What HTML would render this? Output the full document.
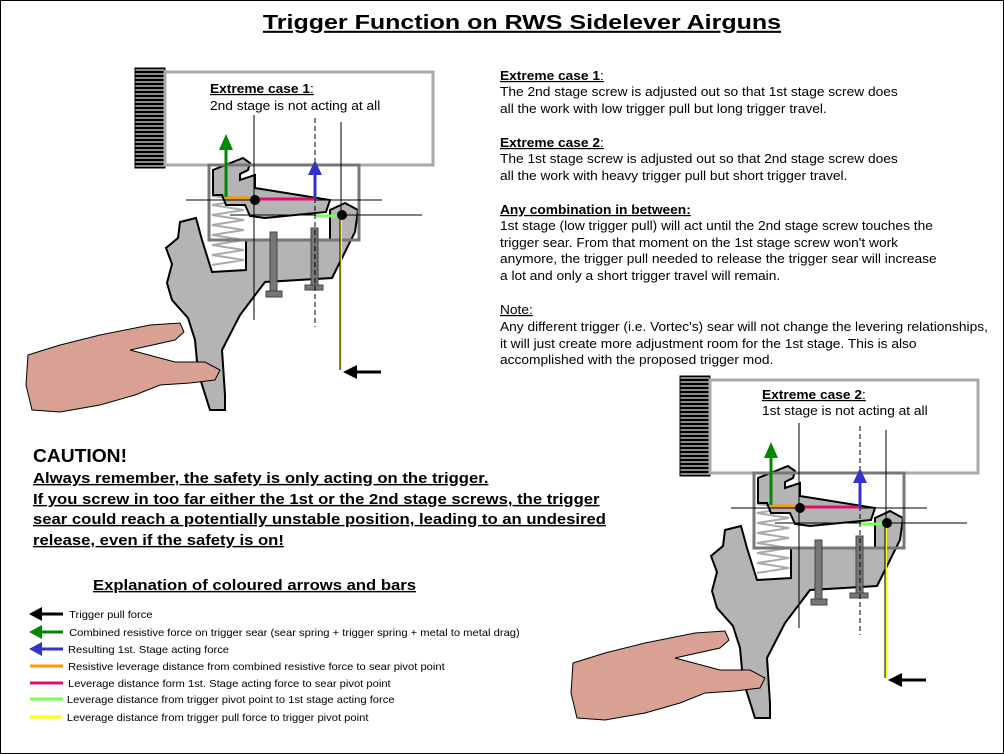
<!DOCTYPE html>
<html><head><meta charset="utf-8"><style>
body{margin:0;background:#fff;}
svg{display:block;font-family:"Liberation Sans",Arial,sans-serif;}
</style></head><body>
<svg width="1004" height="754" viewBox="0 0 1004 754" xmlns="http://www.w3.org/2000/svg">
<defs>
<pattern id="str" width="4" height="4" patternUnits="userSpaceOnUse"><rect width="4" height="4" fill="#000"/><rect y="1" width="4" height="2" fill="#888"/></pattern>
<g id="mech">
  <rect x="135" y="68" width="30" height="100" fill="url(#str)" stroke="#000"/>
  <rect x="165" y="72" width="268" height="93" fill="#fff" stroke="#aaa" stroke-width="3"/>
  <path d="M180,222 L196,218 L202,240 L212,272 L246,270 L246,240 L330,240 L330,210 L345,203 L358,210 L355,232 L340,262 L332,278 L265,282 L240,315 L222,350 L225,395 L225,410 L210,410 L198,372 L195,340 L188,318 L172,300 L167,283 L172,264 L166,248 L178,238 Z" fill="#b4b4b4" stroke="#000" stroke-width="2"/>
  <polyline points="212,196 244,200 212,205 244,210 212,215 244,220 212,225 244,230 212,235 244,240 212,245 244,250 212,255 244,260 212,265" fill="none" stroke="#aaa" stroke-width="2"/>
  <path d="M213,170 L243,158 L250,163 L248,170 L240,174 L240,180 L255,175 L255,188 L330,200 L326,212 L265,218 L250,216 L245,205 L226,205 L222,195 L213,195 Z" fill="#b4b4b4" stroke="#000" stroke-width="2"/>
  <rect x="209" y="165" width="150" height="75" fill="none" stroke="#777" stroke-width="3"/>
  <rect x="270" y="232" width="7" height="60" fill="#777" stroke="#444"/>
  <rect x="266" y="291" width="16" height="6" fill="#777" stroke="#444"/>
  <rect x="311" y="228" width="7" height="58" fill="#777" stroke="#444"/>
  <rect x="305" y="285" width="18" height="5" fill="#777" stroke="#444"/>
  <line x1="254" y1="115" x2="254" y2="320" stroke="#000"/>
  <line x1="315" y1="118" x2="315" y2="327" stroke="#000" stroke-dasharray="5,3"/>
  <line x1="341" y1="122" x2="341" y2="215" stroke="#000"/>
  <line x1="186" y1="200" x2="382" y2="200" stroke="#000"/>
  <line x1="230" y1="215" x2="422" y2="215" stroke="#000"/>
  <line x1="226" y1="198" x2="255" y2="198" stroke="#f90" stroke-width="3"/>
  <line x1="255" y1="199" x2="315" y2="199" stroke="#e0106a" stroke-width="3"/>
  <line x1="316" y1="216" x2="341" y2="216" stroke="#7f5" stroke-width="3"/>
  <line x1="341" y1="216" x2="341" y2="370" stroke="#ff0" stroke-width="2"/>
  <line x1="340" y1="216" x2="340" y2="370" stroke="#000" stroke-width="1"/>
  <circle cx="255" cy="200" r="5" fill="#000"/>
  <circle cx="342" cy="215" r="5" fill="#000"/>
  <line x1="226" y1="197" x2="226" y2="148" stroke="#080" stroke-width="3"/>
  <polygon points="219,150 233,150 226,134" fill="#080"/>
  <line x1="315" y1="199" x2="315" y2="172" stroke="#33c" stroke-width="3"/>
  <polygon points="308,175 322,175 315,160" fill="#33c"/>
  <line x1="355" y1="372" x2="381" y2="372" stroke="#000" stroke-width="3"/>
  <polygon points="343,372 357,365 357,379" fill="#000"/>
  <path d="M28,355 L60,345 L100,335 L150,325 L180,323 L184,332 L175,340 L130,350 L175,362 L205,362 L220,370 L215,380 L190,383 L160,385 L135,395 L100,405 L60,412 L32,410 L26,385 Z" fill="#d9a193" stroke="#000" stroke-width="1"/>
</g>
</defs>
<rect x="0.5" y="0.5" width="1003" height="753" fill="#fff" stroke="#000"/>
<text x="522" y="29" text-anchor="middle" font-size="20.5" font-weight="bold" text-decoration="underline" transform="translate(522,0) scale(1.22,1) translate(-522,0)">Trigger Function on RWS Sidelever Airguns</text>

<use href="#mech"/>
<use href="#mech" transform="translate(545,308)"/>

<g font-size="12.5">
<g transform="translate(210,0) scale(1.1,1) translate(-210,0)">
<text x="210" y="93" font-weight="bold" text-decoration="underline">Extreme case 1<tspan font-weight="normal" text-decoration="none">:</tspan></text>
<text x="210" y="110">2nd stage is not acting at all</text>
</g>
<g transform="translate(762,0) scale(1.1,1) translate(-762,0)">
<text x="762" y="399" font-weight="bold" text-decoration="underline">Extreme case 2<tspan font-weight="normal" text-decoration="none">:</tspan></text>
<text x="762" y="415">1st  stage is not acting at all</text>
</g>
<g transform="translate(500,0) scale(1.1,1) translate(-500,0)">
<text x="500" y="80" font-weight="bold" text-decoration="underline">Extreme case 1<tspan font-weight="normal" text-decoration="none">:</tspan></text>
<text x="500" y="96">The 2nd stage screw is adjusted out so that 1st stage screw does</text>
<text x="500" y="113">all the work with low trigger pull but long trigger travel.</text>
<text x="500" y="147" font-weight="bold" text-decoration="underline">Extreme case 2<tspan font-weight="normal" text-decoration="none">:</tspan></text>
<text x="500" y="163">The 1st stage screw is adjusted out so that 2nd stage screw does</text>
<text x="500" y="180">all the work with heavy trigger pull but short trigger travel.</text>
<text x="500" y="214" font-weight="bold" text-decoration="underline">Any combination in between:</text>
<text x="500" y="230">1st stage (low trigger pull) will act until the 2nd stage screw touches the</text>
<text x="500" y="247">trigger sear. From that moment on the 1st stage screw won't work</text>
<text x="500" y="263">anymore, the trigger pull needed to release the trigger sear will increase</text>
<text x="500" y="280">a lot and only a short trigger travel will remain.</text>
<text x="500" y="314" text-decoration="underline">Note<tspan text-decoration="none">:</tspan></text>
<text x="500" y="331">Any different trigger (i.e. Vortec's) sear will not change the levering relationships,</text>
<text x="500" y="348">it will just create more adjustment room for the 1st stage. This is also</text>
<text x="500" y="364">accomplished with the proposed trigger mod.</text>
</g>
</g>

<text x="33" y="462" font-size="18.5" font-weight="bold" transform="translate(33,0) scale(1.04,1) translate(-33,0)">CAUTION!</text>
<g font-size="14.5" font-weight="bold" text-decoration="underline">
<g transform="translate(33,0) scale(1.15,1) translate(-33,0)">
<text x="33" y="483">Always remember, the safety is only acting on the trigger.</text>
<text x="33" y="504">If you screw in too far either the 1st or the 2nd stage screws, the trigger</text>
<text x="33" y="524">sear could reach a potentially unstable position, leading to an undesired</text>
<text x="33" y="545">release, even if the safety is on!</text>
</g>
<text x="93" y="590" transform="translate(93,0) scale(1.15,1) translate(-93,0)">Explanation of coloured arrows and bars</text>
</g>

<g font-size="10.5">
<line x1="40" y1="614" x2="63" y2="614" stroke="#000" stroke-width="3"/><polygon points="29,614 42,607 42,621" fill="#000"/>
<line x1="40" y1="632" x2="63" y2="632" stroke="#080" stroke-width="3"/><polygon points="29,632 42,625 42,639" fill="#080"/>
<line x1="40" y1="649" x2="63" y2="649" stroke="#33c" stroke-width="3"/><polygon points="29,649 42,642 42,656" fill="#33c"/>
<line x1="30" y1="666" x2="63" y2="666" stroke="#f90" stroke-width="3"/>
<line x1="30" y1="683" x2="63" y2="683" stroke="#e0106a" stroke-width="3"/>
<line x1="30" y1="699" x2="63" y2="699" stroke="#7f5" stroke-width="3"/>
<line x1="30" y1="717" x2="61" y2="717" stroke="#ff0" stroke-width="3"/>
<g transform="translate(68,0) scale(1.066,1) translate(-68,0)">
<text x="69" y="618">Trigger pull force</text>
<text x="69" y="636">Combined resistive force on trigger sear (sear spring + trigger spring + metal to metal drag)</text>
<text x="68" y="653">Resulting 1st. Stage acting force</text>
<text x="68" y="670">Resistive leverage distance from combined resistive force to sear pivot point</text>
<text x="68" y="687">Leverage distance form 1st. Stage acting force to sear pivot point</text>
<text x="67" y="703">Leverage distance from trigger pivot point to 1st stage acting force</text>
<text x="67" y="721">Leverage distance from trigger pull force to trigger pivot point</text>
</g>
</g>
</svg>
</body></html>
